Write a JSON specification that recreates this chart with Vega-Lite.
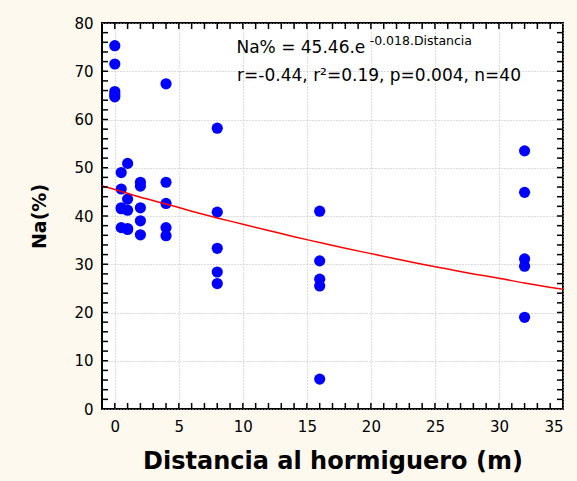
{
  "$schema": "https://vega.github.io/schema/vega-lite/v6.json",
  "width": 461,
  "height": 386,
  "autosize": {"type": "none"},
  "padding": {"left": 102, "top": 23, "right": 14, "bottom": 72},
  "background": "#fdf9ee",
  "config": {
    "view": {"fill": "#ffffff", "stroke": "#000000", "strokeWidth": 2},
    "font": "DejaVu Sans",
    "axis": {"domain": false, "labelColor": "#000000", "labelFont": "DejaVu Sans", "titleFont": "DejaVu Sans", "titleColor": "#000000"}
  },
  "datasets": {
    "pts": [
      {"Distancia": 0, "Na": 75.3}, {"Distancia": 0, "Na": 71.5}, {"Distancia": 0, "Na": 65.8}, {"Distancia": 0, "Na": 64.7}, {"Distancia": 0, "Na": 65.2},
      {"Distancia": 0.5, "Na": 49.0}, {"Distancia": 0.5, "Na": 45.6}, {"Distancia": 0.5, "Na": 41.7}, {"Distancia": 0.5, "Na": 37.6}, {"Distancia": 0.5, "Na": 41.5},
      {"Distancia": 1, "Na": 50.9}, {"Distancia": 1, "Na": 43.5}, {"Distancia": 1, "Na": 41.2}, {"Distancia": 1, "Na": 37.2}, {"Distancia": 1, "Na": 37.4},
      {"Distancia": 2, "Na": 47.0}, {"Distancia": 2, "Na": 46.2}, {"Distancia": 2, "Na": 41.7}, {"Distancia": 2, "Na": 39.0}, {"Distancia": 2, "Na": 36.1},
      {"Distancia": 4, "Na": 67.4}, {"Distancia": 4, "Na": 47.0}, {"Distancia": 4, "Na": 42.6}, {"Distancia": 4, "Na": 37.6}, {"Distancia": 4, "Na": 35.9},
      {"Distancia": 8, "Na": 58.2}, {"Distancia": 8, "Na": 40.8}, {"Distancia": 8, "Na": 33.3}, {"Distancia": 8, "Na": 28.4}, {"Distancia": 8, "Na": 26.0},
      {"Distancia": 16, "Na": 41.0}, {"Distancia": 16, "Na": 30.7}, {"Distancia": 16, "Na": 26.9}, {"Distancia": 16, "Na": 25.5}, {"Distancia": 16, "Na": 6.2},
      {"Distancia": 32, "Na": 53.5}, {"Distancia": 32, "Na": 44.9}, {"Distancia": 32, "Na": 31.1}, {"Distancia": 32, "Na": 29.6}, {"Distancia": 32, "Na": 19.0}
    ],
    "fit": [
      {"Distancia": -1, "Na": 46.2}, {"Distancia": 0, "Na": 45.5}, {"Distancia": 2, "Na": 43.9}, {"Distancia": 4, "Na": 42.5},
      {"Distancia": 6, "Na": 41.0}, {"Distancia": 8, "Na": 39.6}, {"Distancia": 10, "Na": 38.3}, {"Distancia": 12, "Na": 37.0},
      {"Distancia": 14, "Na": 35.7}, {"Distancia": 16, "Na": 34.5}, {"Distancia": 18, "Na": 33.3}, {"Distancia": 20, "Na": 32.2},
      {"Distancia": 22, "Na": 31.1}, {"Distancia": 24, "Na": 30.0}, {"Distancia": 26, "Na": 29.0}, {"Distancia": 28, "Na": 28.0},
      {"Distancia": 30, "Na": 27.1}, {"Distancia": 32, "Na": 26.1}, {"Distancia": 35, "Na": 24.8}
    ],
    "xticks": [
      {"t": 0}, {"t": 1}, {"t": 2}, {"t": 3}, {"t": 4}, {"t": 5}, {"t": 6}, {"t": 7}, {"t": 8}, {"t": 9}, {"t": 10},
      {"t": 11}, {"t": 12}, {"t": 13}, {"t": 14}, {"t": 15}, {"t": 16}, {"t": 17}, {"t": 18}, {"t": 19}, {"t": 20}, {"t": 21},
      {"t": 22}, {"t": 23}, {"t": 24}, {"t": 25}, {"t": 26}, {"t": 27}, {"t": 28}, {"t": 29}, {"t": 30}, {"t": 31}, {"t": 32},
      {"t": 33}, {"t": 34}
    ],
    "yticks": [
      {"t": 2}, {"t": 4}, {"t": 6}, {"t": 8}, {"t": 10}, {"t": 12}, {"t": 14}, {"t": 16}, {"t": 18}, {"t": 20}, {"t": 22},
      {"t": 24}, {"t": 26}, {"t": 28}, {"t": 30}, {"t": 32}, {"t": 34}, {"t": 36}, {"t": 38}, {"t": 40}, {"t": 42}, {"t": 44},
      {"t": 46}, {"t": 48}, {"t": 50}, {"t": 52}, {"t": 54}, {"t": 56}, {"t": 58}, {"t": 60}, {"t": 62}, {"t": 64}, {"t": 66},
      {"t": 68}, {"t": 70}, {"t": 72}, {"t": 74}, {"t": 76}, {"t": 78}
    ]
  },
  "resolve": {"axis": {"x": "independent", "y": "independent"}},
  "layer": [
    {
      "data": {"name": "pts"},
      "mark": {"type": "point", "filled": true, "opacity": 1, "size": 125, "color": "#0000ff"},
      "encoding": {
        "x": {"field": "Distancia", "type": "quantitative",
          "scale": {"domain": [-1, 35], "nice": false, "zero": false},
          "axis": {"orient": "bottom", "values": [0, 5, 10, 15, 20, 25, 30, 35], "ticks": false, "labelFontSize": 15, "labelPadding": 10,
            "grid": true, "gridColor": "#b8b8b8", "gridDash": [1, 2], "gridWidth": 1,
            "title": "Distancia al hormiguero (m)", "titleFontSize": 24, "titleFontWeight": "bold", "titlePadding": 15}},
        "y": {"field": "Na", "type": "quantitative",
          "scale": {"domain": [0, 80], "nice": false, "zero": false},
          "axis": {"orient": "left", "values": [0, 10, 20, 30, 40, 50, 60, 70, 80], "ticks": false, "labelFontSize": 15, "labelPadding": 9,
            "grid": true, "gridColor": "#b8b8b8", "gridDash": [1, 2], "gridWidth": 1,
            "title": "Na(%)", "titleFontSize": 19, "titleFontWeight": "bold", "titlePadding": 24}}
      }
    },
    {
      "data": {"name": "fit"},
      "mark": {"type": "line", "color": "#ff0000", "strokeWidth": 1.5, "interpolate": "monotone"},
      "encoding": {
        "x": {"field": "Distancia", "type": "quantitative", "scale": {"domain": [-1, 35], "nice": false, "zero": false}, "axis": null},
        "y": {"field": "Na", "type": "quantitative", "scale": {"domain": [0, 80], "nice": false, "zero": false}, "axis": null}
      }
    },
    {
      "data": {"name": "xticks"},
      "mark": {"type": "tick", "orient": "vertical", "size": 6, "thickness": 1.5, "color": "#000000", "opacity": 1, "yOffset": -3},
      "encoding": {
        "x": {"field": "t", "type": "quantitative", "scale": {"domain": [-1, 35], "nice": false, "zero": false}, "axis": null},
        "y": {"datum": 0, "type": "quantitative", "scale": {"domain": [0, 80], "nice": false, "zero": false}, "axis": null}
      }
    },
    {
      "data": {"name": "xticks"},
      "mark": {"type": "tick", "orient": "vertical", "size": 6, "thickness": 1.5, "color": "#000000", "opacity": 1, "yOffset": 3},
      "encoding": {
        "x": {"field": "t", "type": "quantitative", "scale": {"domain": [-1, 35], "nice": false, "zero": false}, "axis": null},
        "y": {"datum": 80, "type": "quantitative", "scale": {"domain": [0, 80], "nice": false, "zero": false}, "axis": null}
      }
    },
    {
      "data": {"name": "yticks"},
      "mark": {"type": "tick", "orient": "horizontal", "size": 6, "thickness": 1.5, "color": "#000000", "opacity": 1, "xOffset": 3},
      "encoding": {
        "y": {"field": "t", "type": "quantitative", "scale": {"domain": [0, 80], "nice": false, "zero": false}, "axis": null},
        "x": {"datum": -1, "type": "quantitative", "scale": {"domain": [-1, 35], "nice": false, "zero": false}, "axis": null}
      }
    },
    {
      "data": {"name": "yticks"},
      "mark": {"type": "tick", "orient": "horizontal", "size": 6, "thickness": 1.5, "color": "#000000", "opacity": 1, "xOffset": -3},
      "encoding": {
        "y": {"field": "t", "type": "quantitative", "scale": {"domain": [0, 80], "nice": false, "zero": false}, "axis": null},
        "x": {"datum": 35, "type": "quantitative", "scale": {"domain": [-1, 35], "nice": false, "zero": false}, "axis": null}
      }
    },
    {
      "data": {"values": [{}]},
      "mark": {"type": "text", "align": "left", "baseline": "alphabetic", "fontSize": 17, "font": "DejaVu Sans", "color": "#000000"},
      "encoding": {
        "x": {"datum": 9.5, "type": "quantitative", "axis": null},
        "y": {"datum": 73.8, "type": "quantitative", "axis": null},
        "text": {"value": "Na% = 45.46.e"}
      }
    },
    {
      "data": {"values": [{}]},
      "mark": {"type": "text", "align": "left", "baseline": "alphabetic", "fontSize": 12.5, "font": "DejaVu Sans", "color": "#000000"},
      "encoding": {
        "x": {"datum": 19.9, "type": "quantitative", "axis": null},
        "y": {"datum": 75.4, "type": "quantitative", "axis": null},
        "text": {"value": "-0.018.Distancia"}
      }
    },
    {
      "data": {"values": [{}]},
      "mark": {"type": "text", "align": "left", "baseline": "alphabetic", "fontSize": 17, "font": "DejaVu Sans", "color": "#000000"},
      "encoding": {
        "x": {"datum": 9.55, "type": "quantitative", "axis": null},
        "y": {"datum": 67.9, "type": "quantitative", "axis": null},
        "text": {"value": "r=-0.44, r²=0.19, p=0.004, n=40"}
      }
    }
  ]
}
